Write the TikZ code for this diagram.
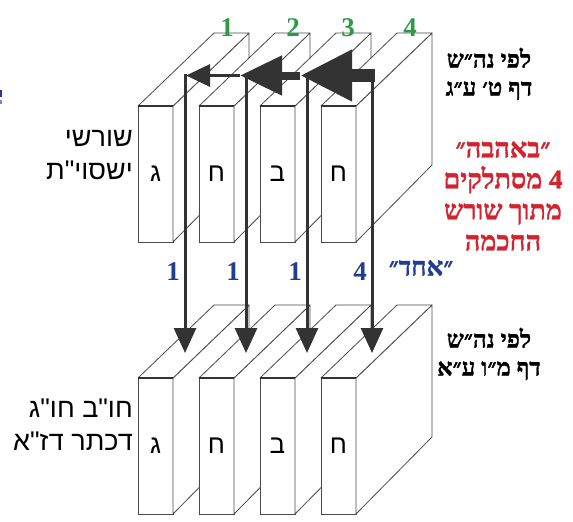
\documentclass[tikz,border=0pt]{standalone}
\usepackage{fontspec}
\usetikzlibrary{arrows.meta}
\TeXXeTstate=1
\newfontfamily\hs[Script=Hebrew]{Liberation Sans}
\newfontfamily\hb[Script=Hebrew]{Liberation Serif}
\newfontfamily\hbb[Script=Hebrew, FakeBold=1.2]{Liberation Serif Bold}
\definecolor{arrowgray}{HTML}{333333}
\definecolor{edgegray}{HTML}{4A4A4A}
\definecolor{grn}{HTML}{2E9A48}
\definecolor{blu}{HTML}{233C93}
\definecolor{rd}{HTML}{D2232E}
\newcommand\slabbox[4]{%
  \node[face] (#1) at (#2,#3) {\beginR #4\endR};
  \draw[sideface] (#1.north east) -- ++(76,-73) -- ++(0,132) -- (#1.south east) -- cycle;
  \draw[sideface] (#1.north west) -- ++(76,-73) -- ++(35,0) -- (#1.north east) -- cycle;
  \draw[topedge] (#1.north west) -- (#1.north east);
}
\begin{document}
\begin{tikzpicture}[x=1pt,y=-1pt,
  face/.style={draw=edgegray, line width=0.9pt, fill=white, minimum width=35pt,
    minimum height=136pt, inner sep=0pt, outer sep=0pt, anchor=north west,
    font=\hs\fontsize{26}{30}\selectfont},
  sideface/.style={draw=edgegray, line width=0.8pt, fill=white, line join=round},
  topedge/.style={draw=arrowgray, line width=1.8pt},
  conn/.style={draw=arrowgray, line width=3pt},
  sanslabel/.style={align=right, anchor=east, font=\hs\fontsize{27}{33}\selectfont, inner sep=0pt},
  seriflabel/.style={align=center, font=\hbb\fontsize{24}{28}\selectfont, inner sep=0pt},
  num/.style={font=\hb\bfseries\fontsize{27}{30}\selectfont, inner sep=0pt}
]
\useasboundingbox (0,0) rectangle (573,522);

% top row
\slabbox{t1}{138}{106}{ג}
\slabbox{t2}{199}{106}{ח}
\slabbox{t3}{260}{106}{ב}
\slabbox{t4}{321}{106}{ח}

% bottom row
\slabbox{b1}{138}{378}{ג}
\slabbox{b2}{199}{378}{ח}
\slabbox{b3}{260}{378}{ב}
\slabbox{b4}{321}{378}{ח}

% connector coordinates
\coordinate (r4) at (375,75.5);
\coordinate (k3) at (300,75.5);
\coordinate (k2) at (240,75.5);
\coordinate (k1) at (186,75.5);
\coordinate (v1) at (185,74);
\coordinate (v2) at (246,74);
\coordinate (v3) at (307,74);
\coordinate (v4) at (372,69);
\coordinate (e1) at (185,353);
\coordinate (e2) at (246,353);
\coordinate (e3) at (307,353);
\coordinate (e4) at (372,353);

% vertical arrows
\foreach \i in {1,2,3,4}{
  \draw[conn, -{Triangle[length=25pt,width=22pt]}] (v\i) -- (e\i);
}
% horizontal arrows
\draw[draw=arrowgray, line width=13pt, -{Triangle[length=52pt,width=48pt]}] (r4) -- (k3);
\draw[draw=arrowgray, line width=8pt, -{Triangle[length=42pt,width=38pt]}] (k3) -- (k2);
\draw[draw=arrowgray, line width=3pt, -{Triangle[length=24pt,width=22pt]}] (k2) -- (k1);

% green numbers
\node[num, text=grn] (g1) at (227,28) {1};
\node[num, text=grn] (g2) at (293,28) {2};
\node[num, text=grn] (g3) at (348,28) {3};
\node[num, text=grn] (g4) at (410,28) {4};

% blue numbers
\node[num, text=blu] (n1) at (173,272) {1};
\node[num, text=blu] (n2) at (233,272) {1};
\node[num, text=blu] (n3) at (295,272) {1};
\node[num, text=blu] (n4) at (360,272) {4};
\node[font=\hbb\fontsize{26}{30}\selectfont, text=blu, inner sep=0pt] (ehad) at (421,268) {\beginR ״אחד״\endR};

% left labels
\node[sanslabel] (lt) at (133,155) {\beginR שורשי\endR\\\beginR ישסוי"ת\endR};
\node[sanslabel] (lb) at (133,425) {\beginR חו"ב חו"ג\endR\\\beginR דכתר דז"א\endR};

% right labels
\node[seriflabel] (rt) at (489,74) {\beginR לפי נה״ש\endR\\\beginR דף ט׳ ע״ג\endR};
\node[seriflabel] (rb) at (489,354) {\beginR לפי נה״ש\endR\\\beginR דף מ״ו ע״א\endR};
\node[align=center, font=\hbb\fontsize{27}{31}\selectfont, text=rd, inner sep=0pt] (red) at (503,196)
  {\beginR ״באהבה״\endR\\\beginR 4 מסתלקים\endR\\\beginR מתוך שורש\endR\\\beginR החכמה\endR};

% clipped blue mark at left edge
\fill[blu] (0,90) rectangle (2,97);
\fill[blu!60] (0,100) rectangle (2,104);
\end{tikzpicture}
\end{document}
